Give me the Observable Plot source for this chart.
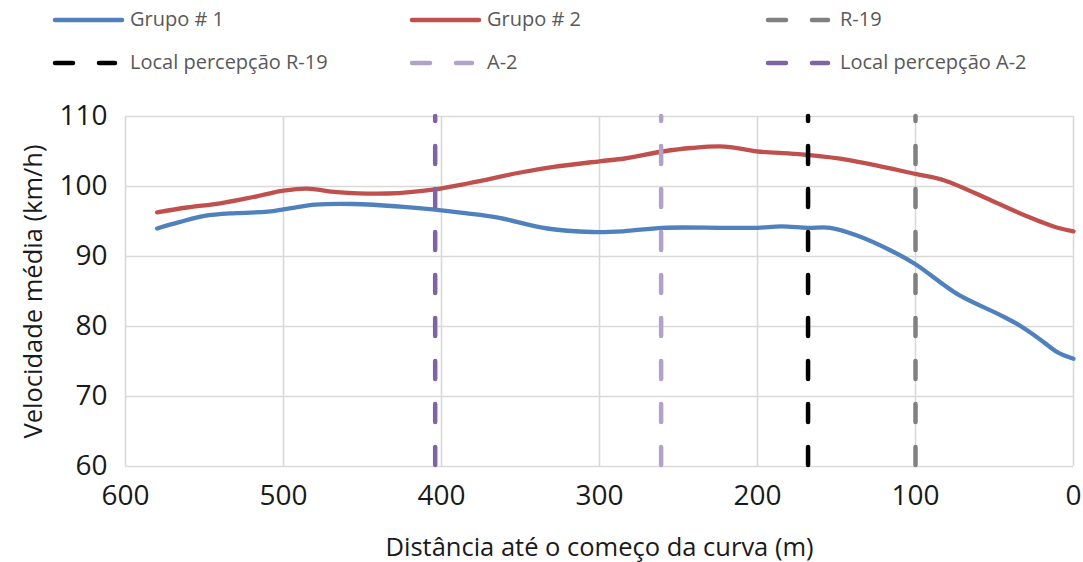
<!DOCTYPE html>
<html>
<head>
<meta charset="utf-8">
<script src="https://cdn.jsdelivr.net/npm/d3@7"></script>
<script src="https://cdn.jsdelivr.net/npm/@observablehq/plot@0.6"></script>
<style>
  body { margin: 0; background: #fff; }
  #wrap { position: relative; width: 1083px; height: 562px; font-family: "Open Sans", sans-serif; }
  #legend { position: relative; height: 90px; }
  .item { position: absolute; font-size: 20px; color: #595959; line-height: 1; white-space: nowrap; }
  svg { overflow: visible; }
</style>
</head>
<body>
<div id="wrap">
  <div id="legend"></div>
  <div id="chart"></div>
</div>
<script>
// ---- data ----
const distG1 = [580, 566, 550, 530, 510, 495, 480, 456, 424, 404, 385, 365, 333, 305, 285, 260, 221, 200, 185, 168, 154, 137, 116, 100, 74, 46, 36, 22, 10, 0];
const velG1  = [94.0, 94.9, 95.8, 96.2, 96.4, 96.9, 97.4, 97.5, 97.1, 96.7, 96.2, 95.6, 94.0, 93.5, 93.6, 94.1, 94.1, 94.1, 94.3, 94.1, 94.1, 93.0, 90.9, 88.9, 84.7, 81.6, 80.4, 78.3, 76.3, 75.4];
const distG2 = [580, 561, 540, 519, 500, 485, 466, 434, 404, 382, 350, 329, 300, 284, 260, 242, 221, 200, 179, 168, 143, 100, 82, 52, 31, 10, 0];
const velG2  = [96.3, 97.0, 97.6, 98.5, 99.4, 99.7, 99.2, 99.0, 99.6, 100.5, 102.0, 102.8, 103.6, 104.0, 105.0, 105.5, 105.7, 105.0, 104.7, 104.5, 103.8, 101.8, 100.9, 98.0, 95.9, 94.1, 93.6];

const markerNames = ["R-19", "Local percepção R-19", "A-2", "Local percepção A-2"];
const markerDist  = [100, 168, 261, 404];

const xTicks = [600, 500, 400, 300, 200, 100, 0];
const yTicks = [60, 70, 80, 90, 100, 110];

const xTitle = "Distância até o começo da curva (m)";
const yTitle = "Velocidade média (km/h)";

const colors = {
  "Grupo # 1": "#4F81BD",
  "Grupo # 2": "#C0504D",
  "R-19": "#808080",
  "Local percepção R-19": "#000000",
  "A-2": "#B3A2C7",
  "Local percepção A-2": "#8064A2"
};

// ---- tables ----
const g1 = distG1.map((d, i) => ({d, v: velG1[i]}));
const g2 = distG2.map((d, i) => ({d, v: velG2[i]}));
const markers = markerDist.map((d, i) => ({d, name: markerNames[i]}));

// ---- legend ----
const legendItems = [
  {name: "Grupo # 1", dashed: false, col: 0, row: 0},
  {name: "Grupo # 2", dashed: false, col: 1, row: 0},
  {name: "R-19", dashed: true, col: 2, row: 0},
  {name: "Local percepção R-19", dashed: true, col: 0, row: 1},
  {name: "A-2", dashed: true, col: 1, row: 1},
  {name: "Local percepção A-2", dashed: true, col: 2, row: 1}
];
const colSwatchX = [53, 410, 766];
const colTextX = [130, 487, 840];
const rowY = [20, 63];
const legend = document.getElementById("legend");
const svgNS = "http://www.w3.org/2000/svg";
for (const it of legendItems) {
  const sx = colSwatchX[it.col];
  const y = rowY[it.row];
  const s = document.createElementNS(svgNS, "svg");
  s.setAttribute("width", 1083); s.setAttribute("height", 90);
  s.style.position = "absolute"; s.style.left = "0"; s.style.top = "0";
  const ln = document.createElementNS(svgNS, "line");
  if (it.dashed) {
    ln.setAttribute("x1", sx + 2); ln.setAttribute("x2", sx + 62);
    ln.setAttribute("stroke-dasharray", "18,26");
  } else {
    ln.setAttribute("x1", sx + 2); ln.setAttribute("x2", sx + 69);
  }
  ln.setAttribute("y1", y); ln.setAttribute("y2", y);
  ln.setAttribute("stroke", colors[it.name]);
  ln.setAttribute("stroke-width", 4.5);
  ln.setAttribute("stroke-linecap", "round");
  s.appendChild(ln);
  legend.appendChild(s);
  const t = document.createElement("div");
  t.className = "item";
  t.textContent = it.name;
  t.style.left = colTextX[it.col] + "px";
  t.style.top = (y - 11) + "px";
  legend.appendChild(t);
}

// ---- chart ----
const chart = Plot.plot({
  width: 1083,
  height: 472,
  marginLeft: 125,
  marginRight: 10,
  marginTop: 26,
  marginBottom: 96,
  style: {fontFamily: "'Open Sans', sans-serif", color: "#1a1a1a", background: "#fff"},
  x: {domain: [600, 0], label: null},
  y: {domain: [60, 110], label: null},
  marks: [
    Plot.ruleY(yTicks, {y: d => d, stroke: "#d9d9d9", strokeWidth: 1.6}),
    Plot.ruleX(xTicks, {x: d => d, stroke: "#d9d9d9", strokeWidth: 1.6}),
    Plot.axisX(xTicks, {tickSize: 0, tickPadding: 19, fontSize: 28, label: null, fill: "#1a1a1a"}),
    Plot.axisY(yTicks, {tickSize: 0, tickPadding: 18, fontSize: 28, label: null, fill: "#1a1a1a"}),
    Plot.line(g2, {x: "d", y: "v", stroke: colors["Grupo # 2"], strokeWidth: 4.3, curve: "catmull-rom"}),
    Plot.line(g1, {x: "d", y: "v", stroke: colors["Grupo # 1"], strokeWidth: 4.3, curve: "catmull-rom"}),
    Plot.ruleX(markers, {x: "d", stroke: d => colors[d.name], strokeWidth: 4.5, strokeDasharray: "18,25", strokeDashoffset: 13, strokeLinecap: "round"}),
    Plot.text([xTitle], {frameAnchor: "bottom", dy: 81, fontSize: 25.5, fill: "#1a1a1a", lineAnchor: "middle"}),
    Plot.text([yTitle], {frameAnchor: "left", dx: -92, rotate: -90, textAnchor: "middle", fontSize: 25.5, fill: "#1a1a1a", lineAnchor: "middle"})
  ]
});
document.getElementById("chart").appendChild(chart);
</script>
</body>
</html>
